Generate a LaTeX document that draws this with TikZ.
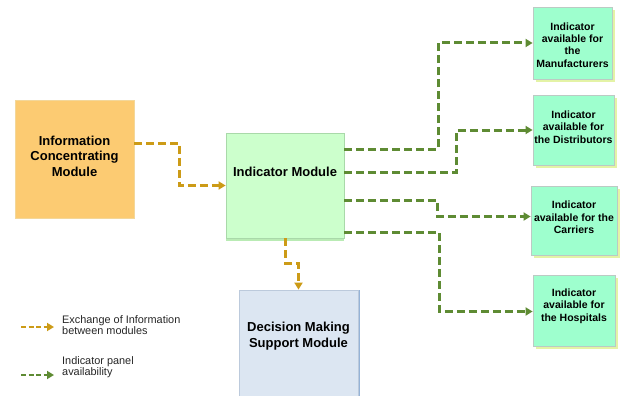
\documentclass[tikz,border=0pt]{standalone}
\usepackage{fontspec}
\setmainfont{Liberation Sans}
\usetikzlibrary{arrows.meta,shadows}

\definecolor{icmfill}{HTML}{FCCB72}
\definecolor{icmdraw}{HTML}{F3D79A}
\definecolor{indfill}{HTML}{CCFFCC}
\definecolor{inddraw}{HTML}{A9D9A9}
\definecolor{indshade}{HTML}{B9EBB4}
\definecolor{panfill}{HTML}{9EFFCE}
\definecolor{pandraw}{HTML}{BCCAC4}
\definecolor{panshade}{HTML}{E4F3A6}
\definecolor{decfill}{HTML}{DCE6F2}
\definecolor{decdraw}{HTML}{BCCADC}
\definecolor{decshade}{HTML}{95B3D7}
\definecolor{xchg}{HTML}{CC9B17}
\definecolor{avail}{HTML}{5E8B33}

\tikzset{
  box/.style={draw, line width=0.8pt, minimum width=#1, inner sep=0pt},
  bigtext/.style={font=\bfseries\fontsize{13}{15.5}\selectfont, align=center, text=black},
  pantext/.style={font=\bfseries\fontsize{10.5}{12.4}\selectfont, align=center, text=black},
  legtext/.style={font=\fontsize{10.9}{11.6}\selectfont, align=left, anchor=west, inner sep=0pt, text=black!85},
  panel/.style={box=#1, fill=panfill, draw=pandraw,
    general shadow={fill=panshade, shadow xshift=3pt, shadow yshift=-3pt}},
  flow/.style={line width=3pt, dash pattern=on 8pt off 4pt,
    -{Triangle[length=7pt,width=8pt]}},
  xflow/.style={flow, draw=xchg},
  aflow/.style={flow, draw=avail}
}

\begin{document}
\begin{tikzpicture}[x=1pt, y=-1pt]
\useasboundingbox (0,0) rectangle (624,396);

% modules
\node[box=119pt, minimum height=118pt, fill=icmfill, draw=icmdraw,
      label={[bigtext, yshift=3pt, name=icmtxt]center:Information\\Concentrating\\Module}]
  (icm) at (74.5,159) {};
\node[box=118pt, minimum height=105pt, fill=indfill, draw=inddraw,
      general shadow={fill=indshade, shadow xshift=0pt, shadow yshift=-3pt},
      label={[bigtext, yshift=14pt, name=indtxt]center:Indicator Module}]
  (ind) at (285,185.5) {};
\node[box=119pt, minimum height=108pt, fill=decfill, draw=decdraw,
      general shadow={fill=decshade, shadow xshift=2pt, shadow yshift=0pt},
      label={[bigtext, yshift=8pt, name=dectxt]center:Decision Making\\Support Module}]
  (dec) at (298.5,344) {};

% indicator panels
\node[panel=79pt, minimum height=72pt,
      label={[pantext, yshift=-2pt, name=manutxt]center:Indicator\\available for\\the\\Manufacturers}]
  (manu) at (572.5,43) {};
\node[panel=81pt, minimum height=70pt,
      label={[pantext, yshift=3pt, name=disttxt]center:Indicator\\available for\\the Distributors}]
  (dist) at (573.5,130) {};
\node[panel=86pt, minimum height=69pt,
      label={[pantext, yshift=3pt, name=carrtxt]center:Indicator\\available for the\\Carriers}]
  (carr) at (574,220.5) {};
\node[panel=82pt, minimum height=71pt,
      label={[pantext, yshift=4.5pt, name=hosptxt]center:Indicator\\available for\\the Hospitals}]
  (hosp) at (574,310.5) {};

% exchange of information between modules
\draw[xflow] ([yshift=16pt]icm.east) -| ([xshift=-46pt]ind.west) -- (ind.west);
\draw[xflow] (ind.south) |- ([yshift=26pt]dec.north) -- (dec.north);

% indicator availability
\draw[aflow] ([yshift=36.5pt]ind.east) -| ([xshift=-94pt]manu.west) -- (manu.west);
\draw[aflow] ([yshift=13pt]ind.east) -| ([xshift=-76pt]dist.west) -- (dist.west);
\draw[aflow] ([yshift=-14.5pt]ind.east) -| ([xshift=-93pt,yshift=4pt]carr.west) -- ([yshift=4pt]carr.west);
\draw[aflow] ([yshift=-46.5pt]ind.east) -| ([xshift=-93pt,yshift=-1pt]hosp.west) -- ([yshift=-1pt]hosp.west);

% legend
\coordinate (lxa) at (21,327);
\coordinate (lxb) at (54,327);
\coordinate (laa) at (21,375);
\coordinate (lab) at (54,375);
\draw[xflow, line width=2.2pt, dash pattern=on 5pt off 2.5pt] (lxa) -- (lxb);
\draw[aflow, line width=2.2pt, dash pattern=on 5pt off 2.5pt] (laa) -- (lab);
\node[legtext] (lxt) at (62,325) {Exchange of Information\\between modules};
\node[legtext] (lat) at (62,367) {Indicator panel\\availability};
\end{tikzpicture}
\end{document}
